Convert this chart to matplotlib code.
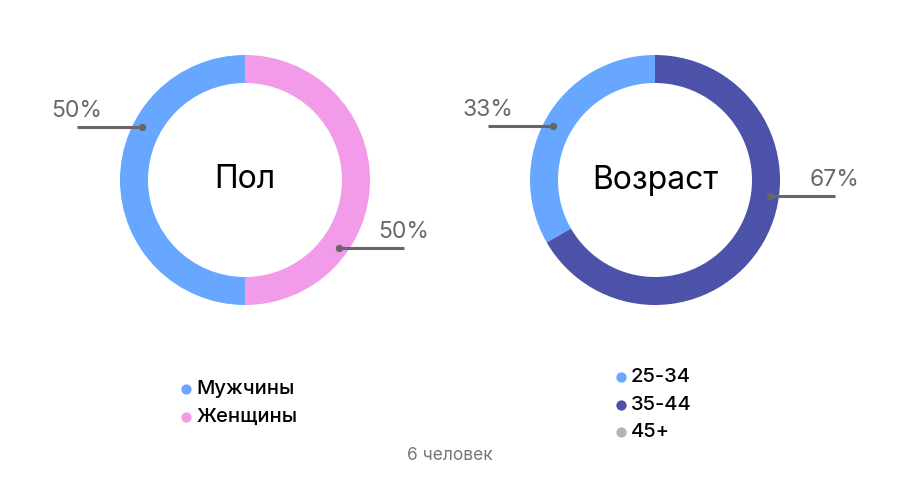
import numpy as np
import matplotlib.pyplot as plt

# data
gender_labels = ["Мужчины", "Женщины"]
gender_values = [3, 3]
age_labels = ["25-34", "35-44", "45+"]
age_values = [2, 4, 0]
total_people = 6

gender_colors = ["#67a7ff", "#f29be9"]
age_colors = ["#67a7ff", "#4b52a8", "#b3b3b3"]

plt.rcParams['font.family'] = ['Inter', 'DejaVu Sans']

W, H = 900, 480
fig = plt.figure(figsize=(9, 4.8), dpi=100)
ax = fig.add_axes([0, 0, 1, 1])

R_OUT, RING = 125, 28


def donut(cx, cy, values, colors, title, label_angles):
    vals = [v for v in values if v > 0]
    cols = [c for v, c in zip(values, colors) if v > 0]
    ax.pie(vals, colors=cols, center=(cx, cy), radius=R_OUT, startangle=90,
           counterclock=True, wedgeprops=dict(width=RING, linewidth=0))
    ax.text(cx, cy, title, ha='center', va='center', fontsize=23, color='black')
    tot = sum(vals)
    for v, ang in zip(vals, label_angles):
        a = np.deg2rad(ang)
        r = 116
        px, py = cx + r * np.cos(a), cy + r * np.sin(a)
        side = -1 if np.cos(a) < 0 else 1
        ex = px + side * 65
        ax.plot([px, ex], [py, py], color='#666666', lw=2.2, solid_capstyle='butt', zorder=5)
        ax.scatter([px], [py], s=28, color='#666666', zorder=6, linewidths=0)
        ax.text(ex, py + 5, f"{round(v / tot * 100)}%", ha='center', va='bottom',
                fontsize=16.5, color='#696969', fontweight='normal')


donut(245, H - 180, gender_values, gender_colors, "Пол", [153, -36])
donut(655, H - 180, age_values, age_colors, "Возраст", [152, -8])


def legend(x, y, labels, colors, step):
    for i, (lab, col) in enumerate(zip(labels, colors)):
        yy = y - i * step
        ax.scatter([x], [yy], s=55, color=col, linewidths=0)
        ax.text(x + 10, yy, lab, ha='left', va='center', fontsize=14.5,
                color='black', fontweight='medium')


legend(186, H - 389, gender_labels, gender_colors, 28)
legend(621, H - 377, age_labels, age_colors, 27.5)

ax.text(450, H - 455, f"{total_people} человек", ha='center', va='center',
        fontsize=12.5, color='#777777')

# pie() resets limits, so set them afterwards
ax.set_xlim(0, W)
ax.set_ylim(0, H)
ax.set_aspect('equal')
ax.axis('off')

fig.savefig("out.png", dpi=100)
